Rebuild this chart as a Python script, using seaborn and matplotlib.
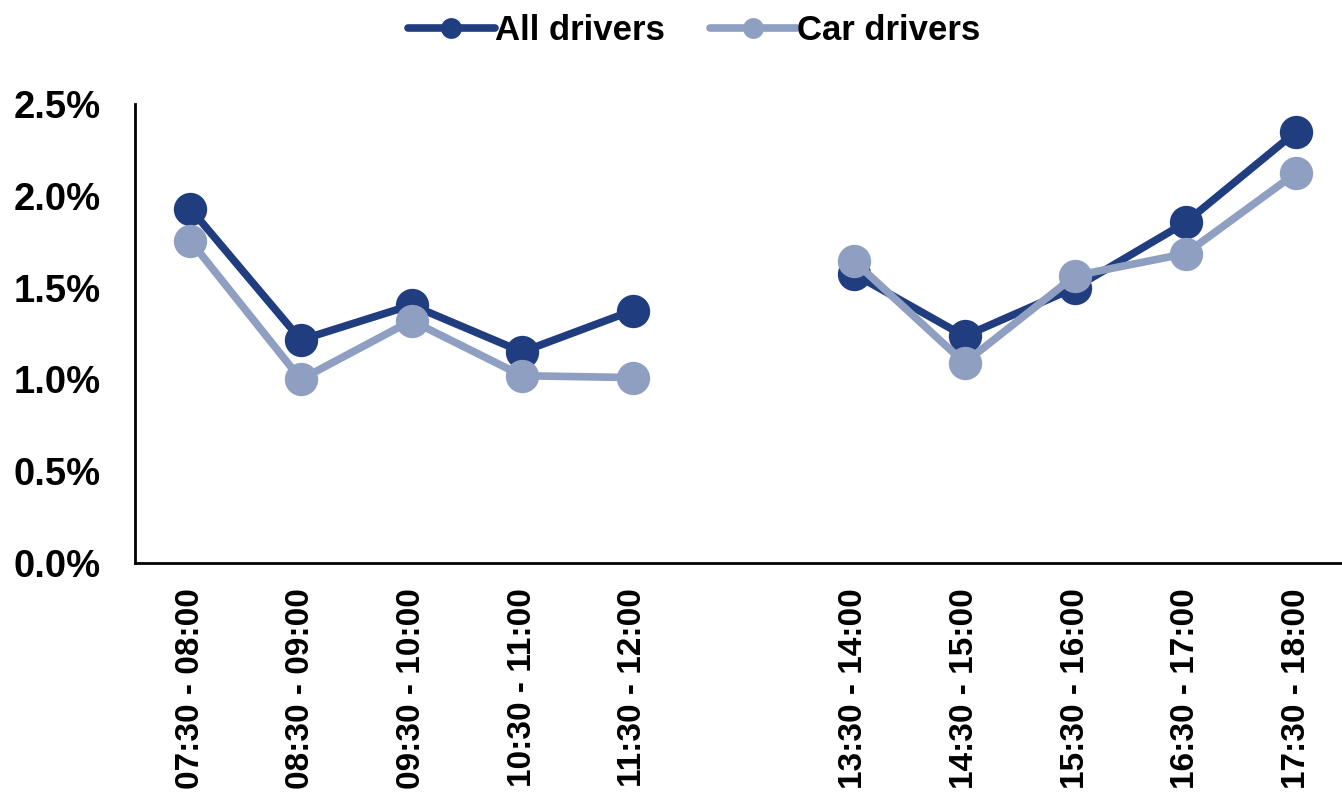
import numpy as np
import pandas as pd
import seaborn as sns
from matplotlib import pyplot as plt
from matplotlib.lines import Line2D
from matplotlib.ticker import PercentFormatter

# 資料 (12:30 - 13:00 沒有資料, 留空)
categories = ["07:30 - 08:00", "08:30 - 09:00", "09:30 - 10:00", "10:30 - 11:00",
              "11:30 - 12:00", "", "13:30 - 14:00", "14:30 - 15:00",
              "15:30 - 16:00", "16:30 - 17:00", "17:30 - 18:00"]
all_drivers = [1.93, 1.215, 1.405, 1.15, 1.375, np.nan, 1.575, 1.235, 1.50, 1.855, 2.35]
car_drivers = [1.755, 1.00, 1.32, 1.02, 1.01, np.nan, 1.645, 1.09, 1.565, 1.685, 2.125]

dark = "#203d80"
light = "#8f9fc2"

sns.set_style("white")
plt.rcParams['font.family'] = ['Liberation Sans', 'DejaVu Sans']
plt.rcParams['font.weight'] = 'bold'
plt.rcParams['text.color'] = 'black'
plt.rcParams['xtick.color'] = 'black'
plt.rcParams['ytick.color'] = 'black'

df = pd.DataFrame({"pos": range(len(categories)), "label": categories,
                   "All drivers": all_drivers, "Car drivers": car_drivers})
# 中間有空白, 分成上午/下午兩段畫
gap = df[df["All drivers"].isna()].index[0]
segments = [df.iloc[:gap], df.iloc[gap + 1:]]

fig = plt.figure(figsize=(13.42, 7.96), dpi=100)
ax = fig.add_axes([135 / 1342, 233 / 796, 1207 / 1342, 459 / 796])

for name, color in [("All drivers", dark), ("Car drivers", light)]:
    for seg in segments:
        sns.lineplot(x="pos", y=name, data=seg, ax=ax, color=color, linewidth=5.5,
                     marker="o", markersize=24, markeredgewidth=0)

ax.set_xlim(-0.5, -0.5 + 1207 / 110.6)
ax.set_ylim(0, 2.5)
ax.set_xticks(df["pos"])
ax.set_xticklabels(df["label"], rotation=90, fontsize=24, fontweight='bold')
ax.yaxis.set_major_formatter(PercentFormatter(decimals=1))
ax.set_yticks([0, 0.5, 1.0, 1.5, 2.0, 2.5])
ax.tick_params(axis='y', length=0, pad=25, labelsize=27.5, labelcolor='black')
ax.tick_params(axis='x', length=0, pad=18, labelcolor='black')
for t in ax.get_yticklabels():
    t.set_fontweight('bold')
ax.set_xlabel("")
ax.set_ylabel("")
sns.despine(ax=ax)
for s in ["left", "bottom"]:
    ax.spines[s].set_linewidth(2)
    ax.spines[s].set_color("black")

handles = [Line2D([], [], color=dark, lw=5.5, marker="o", markersize=15, markeredgewidth=0),
           Line2D([], [], color=light, lw=5.5, marker="o", markersize=15, markeredgewidth=0)]
leg = fig.legend(handles, ["All drivers", "Car drivers"], loc="center", bbox_to_anchor=(0.517, 0.962),
                 ncol=2, frameon=False, handlelength=2.5, handletextpad=0.0,
                 columnspacing=1.3, prop={'weight': 'bold', 'size': 25})
for t in leg.get_texts():
    t.set_color('black')

fig.savefig("out.png", dpi=100)
